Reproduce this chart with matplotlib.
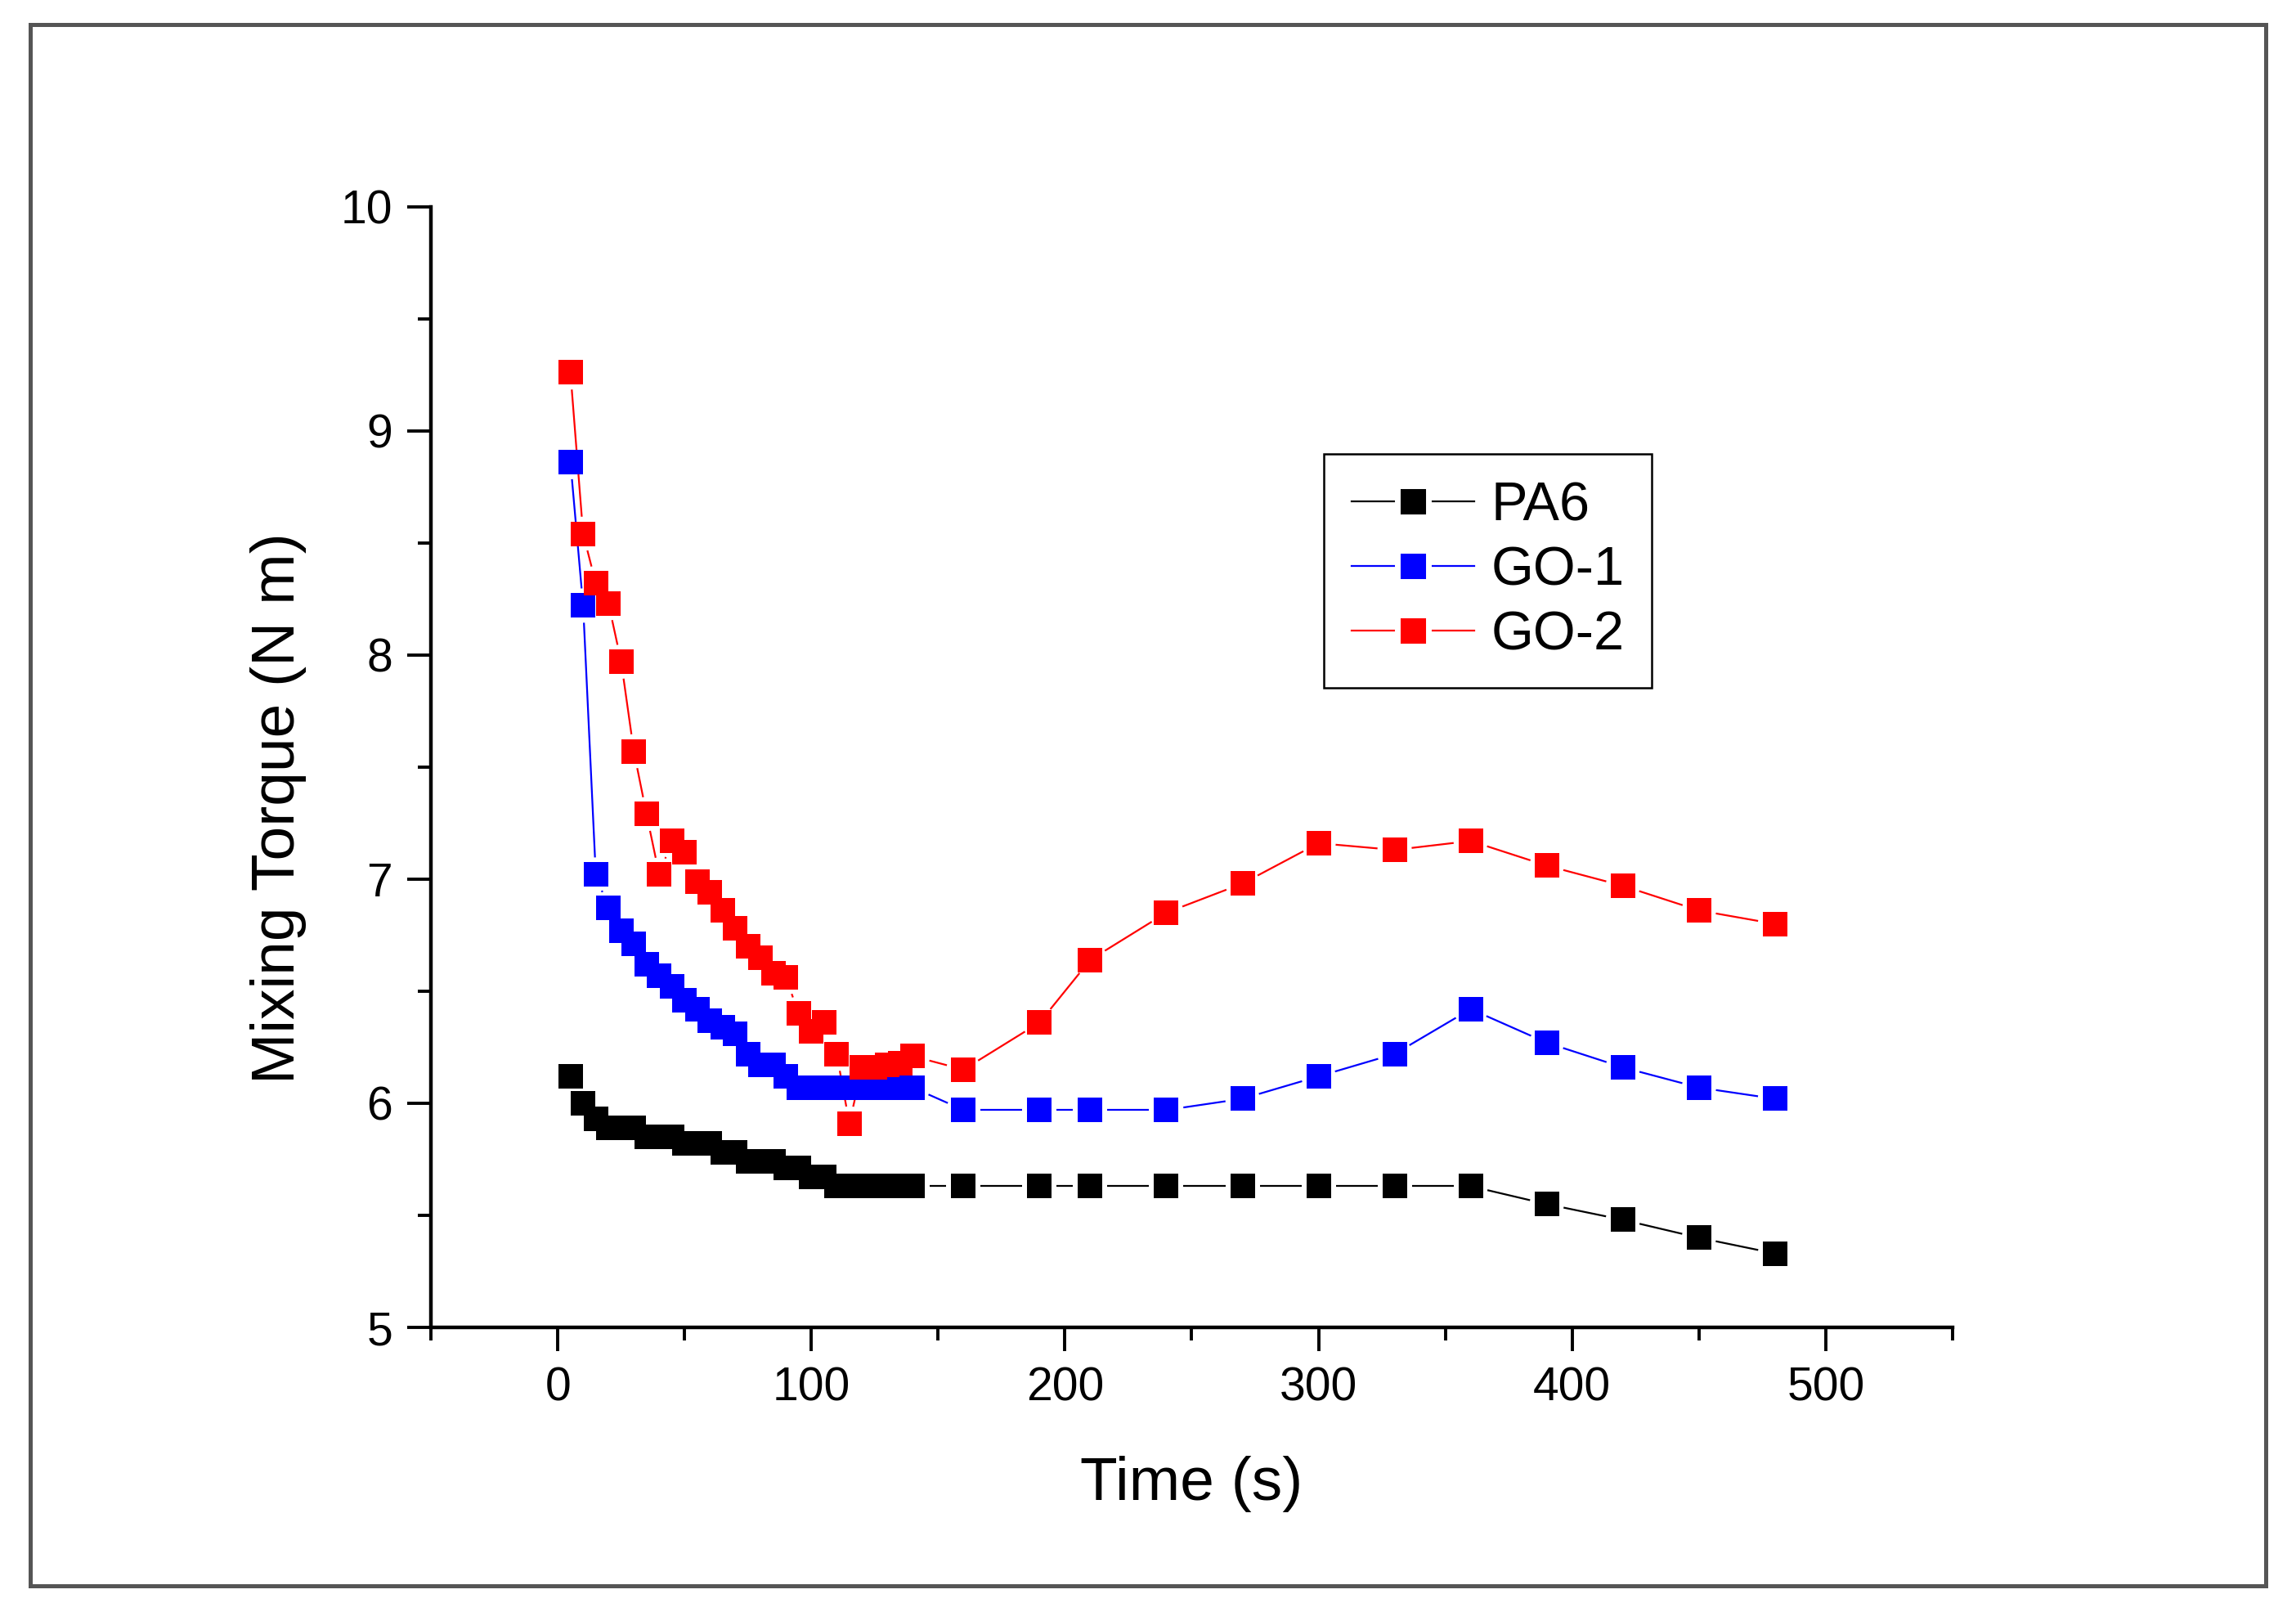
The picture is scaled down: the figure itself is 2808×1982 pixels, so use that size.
import matplotlib
matplotlib.use("Agg")
import matplotlib.pyplot as plt
import numpy as np
from matplotlib.collections import LineCollection
from matplotlib.lines import Line2D
from matplotlib.patches import Rectangle
from matplotlib.ticker import MultipleLocator

plt.rcParams["font.family"] = ["Liberation Sans", "DejaVu Sans"]

# temps de mesure (s)
time_s = [5, 10, 15, 20, 25, 30, 35, 40, 45, 50, 55, 60, 65, 70, 75, 80, 85, 90,
          95, 100, 105, 110, 115, 120, 125, 130, 135, 140,
          160, 190, 210, 240, 270, 300, 330, 360, 390, 420, 450, 480]

pa6 = [6.12, 6.00, 5.93, 5.89, 5.89, 5.89, 5.85, 5.85, 5.85, 5.82, 5.82, 5.82,
       5.78, 5.78, 5.74, 5.74, 5.74, 5.71, 5.71, 5.67, 5.67, 5.63, 5.63, 5.63,
       5.63, 5.63, 5.63, 5.63,
       5.63, 5.63, 5.63, 5.63, 5.63, 5.63, 5.63, 5.63, 5.55, 5.48, 5.40, 5.33]

go1 = [8.86, 8.22, 7.02, 6.87, 6.77, 6.71, 6.62, 6.57, 6.52, 6.46, 6.42, 6.37,
       6.34, 6.31, 6.22, 6.17, 6.17, 6.12, 6.07, 6.07, 6.07, 6.07, 6.07, 6.07,
       6.07, 6.07, 6.07, 6.07,
       5.97, 5.97, 5.97, 5.97, 6.02, 6.12, 6.22, 6.42, 6.27, 6.16, 6.07, 6.02]

go2 = [9.26, 8.54, 8.32, 8.23, 7.97, 7.57, 7.29, 7.02, 7.17, 7.12, 6.99, 6.94,
       6.86, 6.78, 6.70, 6.65, 6.58, 6.56, 6.40, 6.32, 6.36, 6.22, 5.91, 6.16,
       6.16, 6.17, 6.18, 6.21,
       6.15, 6.36, 6.64, 6.85, 6.98, 7.16, 7.13, 7.17, 7.06, 6.97, 6.86, 6.80]

series = [("PA6", pa6, "black"), ("GO-1", go1, "blue"), ("GO-2", go2, "red")]

fig = plt.figure(figsize=(14.04, 9.91), dpi=200)
ax = fig.add_axes([0.1877, 0.1811, 0.6627, 0.6915])
ax.set_xlim(-50, 550)
ax.set_ylim(5, 10)


def segments_with_gap(x, y, gap_px):
    # lignes coupées autour des symboles (style Origin)
    pts = ax.transData.transform(np.column_stack([x, y]))
    inv = ax.transData.inverted()
    segs = []
    for p0, p1 in zip(pts[:-1], pts[1:]):
        d = p1 - p0
        L = np.hypot(d[0], d[1])
        if L <= 2 * gap_px:
            continue
        u = d / L
        segs.append(inv.transform(np.array([p0 + u * gap_px, p1 - u * gap_px])))
    return segs


for name, vals, col in series:
    lc = LineCollection(segments_with_gap(time_s, vals, 21), colors=col,
                        linewidths=0.8, zorder=2)
    ax.add_collection(lc)
    ax.plot(time_s, vals, linestyle="none", marker="s", markersize=11,
            markerfacecolor=col, markeredgewidth=0, zorder=3)

for side in ["top", "right"]:
    ax.spines[side].set_visible(False)
for side in ["left", "bottom"]:
    ax.spines[side].set_linewidth(1.6)

ax.xaxis.set_major_locator(MultipleLocator(100))
ax.xaxis.set_minor_locator(MultipleLocator(50))
ax.yaxis.set_major_locator(MultipleLocator(1))
ax.yaxis.set_minor_locator(MultipleLocator(0.5))
ax.tick_params(which="major", direction="out", length=10.4, width=1.4,
               labelsize=20.5, pad=6.5)
ax.tick_params(which="minor", direction="out", length=5.8, width=1.4)

ax.set_xlabel("Time (s)", fontsize=27, labelpad=20)
ax.set_ylabel("Mixing Torque (N m)", fontsize=27, labelpad=15)
ax.yaxis.label.set_y(0.4635)

handles = [Line2D([], [], color=col, lw=0.8, marker="s", markersize=13.5,
                  markerfacecolor=col, markeredgecolor="white", markeredgewidth=2.5)
           for _, _, col in series]
leg = ax.legend(handles, [s[0] for s in series], loc="upper left",
                bbox_to_anchor=(0.587, 0.779), borderaxespad=0, fontsize=24,
                frameon=True, fancybox=False, edgecolor="black", framealpha=1,
                handlelength=2.26, handletextpad=0.3, labelspacing=0.25,
                borderpad=0.5)
leg.get_frame().set_linewidth(0.9)

# cadre gris autour de la figure
fig.add_artist(Rectangle((0.0130, 0.0217), 0.9740, 0.9634, transform=fig.transFigure,
                         fill=False, edgecolor="#555555", linewidth=1.8))

fig.savefig("out.png", dpi=200)
